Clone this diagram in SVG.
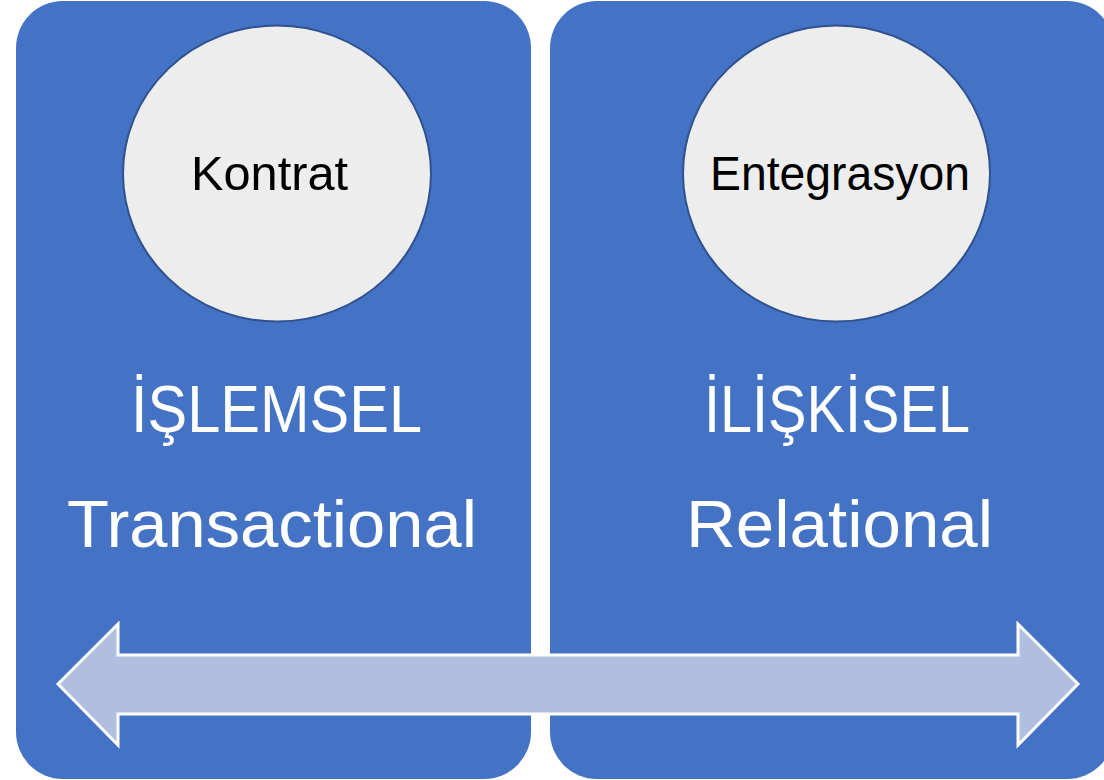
<svg xmlns="http://www.w3.org/2000/svg" width="1104" height="780" viewBox="0 0 1104 780">
  <style>
    .panel { fill: #4472C4; }
    .circ { fill: #EDEDED; stroke: #2F528F; stroke-width: 2; }
    .small { font-family: "Liberation Sans", Arial, sans-serif; font-size: 49px; fill: #000000; text-anchor: middle; }
    .big { font-family: "Liberation Sans", Arial, sans-serif; font-size: 67px; fill: #FFFFFF; text-anchor: middle; }
    .arrow { fill: #B0BEDF; stroke: #FFFFFF; stroke-width: 3; stroke-linejoin: miter; }
  </style>
  <rect width="1104" height="780" fill="#FFFFFF"/>
  <g id="panel-left">
    <rect class="panel" x="16" y="1" width="515" height="778" rx="47" ry="47"/>
    <text class="big" x="276.5" y="432" textLength="291" lengthAdjust="spacingAndGlyphs">İŞLEMSEL</text>
    <text class="big" x="272" y="547" textLength="410" lengthAdjust="spacingAndGlyphs">Transactional</text>
  </g>
  <g id="panel-right">
    <rect class="panel" x="550" y="1" width="564" height="778" rx="47" ry="47"/>
    <text class="big" x="837" y="432" textLength="266" lengthAdjust="spacingAndGlyphs">İLİŞKİSEL</text>
    <text class="big" x="839.5" y="547" textLength="307" lengthAdjust="spacingAndGlyphs">Relational</text>
  </g>
  <g id="node-kontrat">
    <ellipse class="circ" cx="277" cy="173.5" rx="154" ry="148"/>
    <text class="small" x="269.5" y="190" textLength="157" lengthAdjust="spacingAndGlyphs">Kontrat</text>
  </g>
  <g id="node-entegrasyon">
    <ellipse class="circ" cx="836.5" cy="173.5" rx="153.5" ry="148"/>
    <text class="small" x="840" y="190" textLength="260" lengthAdjust="spacingAndGlyphs">Entegrasyon</text>
  </g>
  <g id="connectors">
    <path class="arrow" d="M58,684 L118,624 L118,655 L1018,655 L1018,624 L1078,684 L1018,745 L1018,714 L118,714 L118,745 Z"/>
  </g>
</svg>
